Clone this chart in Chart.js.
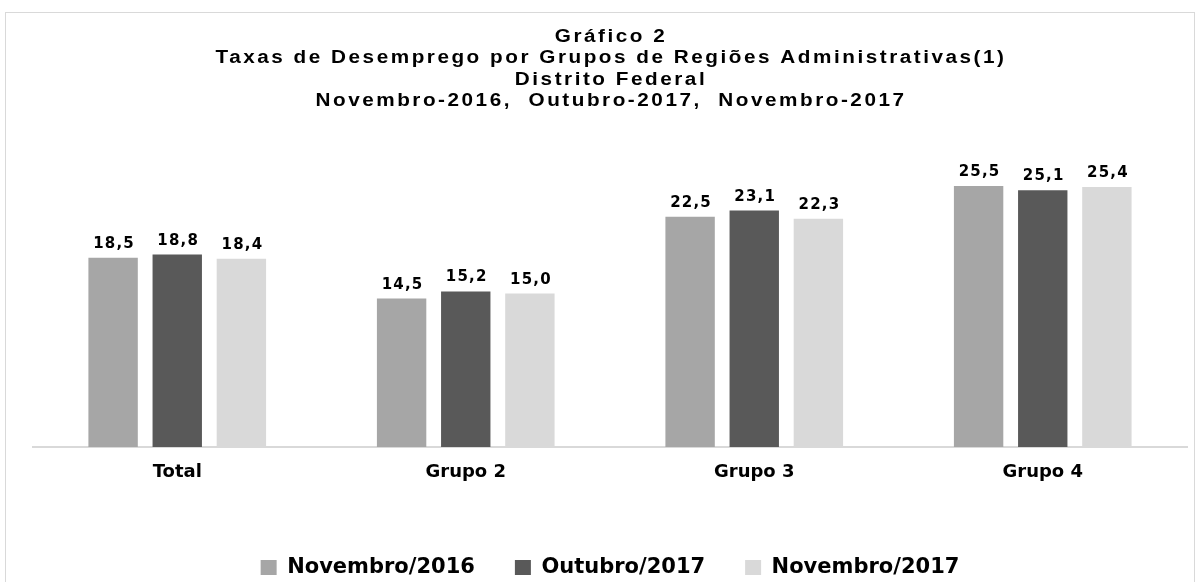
<!DOCTYPE html>
<html>
<head>
<meta charset="utf-8">
<script src="https://cdn.jsdelivr.net/npm/chart.js@4"></script>
<style>
  html, body { margin: 0; padding: 0; background: #fff; }
  #wrap { position: relative; width: 1200px; height: 582px; overflow: hidden; }
  #frame { position: absolute; left: 5px; top: 12px; width: 1190px; height: 600px; border: 1px solid #d9d9d9; box-sizing: border-box; }
  #myChart { position: absolute; left: 0; top: 0; }
</style>
</head>
<body>
<div id="wrap">
  <div id="frame"></div>
  <canvas id="myChart" width="1200" height="582"></canvas>
</div>
<script>
const categories = ['Total', 'Grupo 2', 'Grupo 3', 'Grupo 4'];
const seriesNames = ['Novembro/2016', 'Outubro/2017', 'Novembro/2017'];
const nov2016 = [18.5, 14.5, 22.5, 25.5];
const out2017 = [18.8, 15.2, 23.1, 25.1];
const nov2017 = [18.4, 15.0, 22.3, 25.4];
const titleLines = [
  'Gráfico 2',
  'Taxas de Desemprego por Grupos de Regiões Administrativas(1)',
  'Distrito Federal',
  'Novembro-2016,  Outubro-2017,  Novembro-2017'
];
const colors = ['#a6a6a6', '#595959', '#d9d9d9'];

// title drawn by hand, slightly stretched and spaced like the original
const spacedTitle = {
  id: 'spacedTitle',
  afterDraw(chart) {
    const ctx = chart.ctx;
    ctx.save();
    ctx.font = 'bold 18px "Liberation Sans"';
    ctx.letterSpacing = '2.2px';
    ctx.fillStyle = '#000';
    ctx.textAlign = 'center';
    ctx.textBaseline = 'alphabetic';
    ctx.translate(611, 0);
    ctx.scale(1.15, 1);
    titleLines.forEach((line, i) => {
      ctx.fillText(line, 0, 42 + i * 21.3);
    });
    ctx.letterSpacing = '0px';
    ctx.restore();
  }
};

// value labels above the bars, comma decimals
const valueLabels = {
  id: 'valueLabels',
  afterDatasetsDraw(chart) {
    const ctx = chart.ctx;
    ctx.save();
    ctx.font = 'bold 15px "DejaVu Sans"';
    ctx.letterSpacing = '1.2px';
    ctx.fillStyle = '#000';
    ctx.textAlign = 'center';
    ctx.textBaseline = 'alphabetic';
    chart.data.datasets.forEach((ds, i) => {
      chart.getDatasetMeta(i).data.forEach((bar, j) => {
        ctx.fillText(ds.data[j].toFixed(1).replace('.', ','), bar.x + 1, bar.y - 10);
      });
    });
    ctx.letterSpacing = '0px';
    ctx.restore();
  }
};

const ctx = document.getElementById('myChart');
const config = {
  type: 'bar',
  data: {
    labels: categories,
    datasets: [
      { label: seriesNames[0], data: nov2016, backgroundColor: colors[0] },
      { label: seriesNames[1], data: out2017, backgroundColor: colors[1] },
      { label: seriesNames[2], data: nov2017, backgroundColor: colors[2] }
    ]
  },
  options: {
    responsive: false,
    animation: false,
    datasets: {
      bar: { categoryPercentage: 0.667, barPercentage: 0.77 }
    },
    layout: {
      padding: { left: 33, right: 13, top: 140, bottom: -6 }
    },
    plugins: {
      title: { display: false },
      legend: {
        position: 'bottom',
        labels: {
          color: '#000',
          font: { family: '"DejaVu Sans"', size: 21, weight: 'bold' },
          boxWidth: 16,
          boxHeight: 15,
          padding: 40
        }
      },
      tooltip: { enabled: false }
    },
    scales: {
      x: {
        grid: { display: false },
        border: { display: true, color: '#d9d9d9', width: 2 },
        ticks: {
          color: '#000',
          font: { family: '"DejaVu Sans"', size: 18, weight: 'bold' },
          padding: 7
        },
        afterFit(scale) { scale.height = 70; }
      },
      y: {
        display: false,
        min: 0,
        max: 30
      }
    }
  },
  plugins: [valueLabels, spacedTitle]
};

let chart = new Chart(ctx, config);
</script>
</body>
</html>
